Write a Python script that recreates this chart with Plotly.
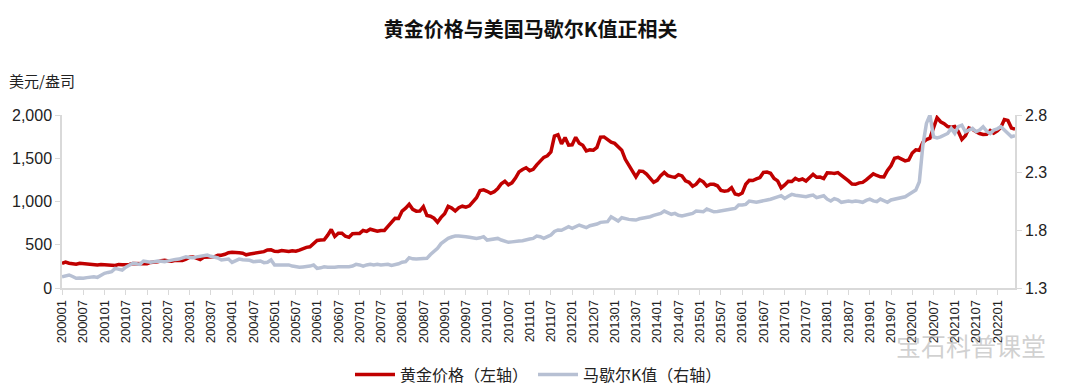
import plotly.graph_objects as go

# Monthly labels 200001 .. 202206
months = [f"{y}{m:02d}" for y in range(2000, 2023) for m in range(1, 13)][:270]

# Gold price (USD/oz), monthly averages
gold = [
    284.6, 300.0, 286.4, 280.0, 275.3, 285.7, 281.6, 274.5, 273.7, 270.0, 266.0, 271.5,
    265.5, 261.9, 263.0, 260.5, 272.4, 270.2, 267.5, 272.4, 283.4, 283.1, 276.2, 275.9,
    281.7, 295.5, 294.1, 302.7, 314.5, 321.2, 313.3, 310.3, 319.2, 316.6, 319.1, 333.0,
    356.9, 359.0, 340.6, 328.2, 355.7, 356.4, 351.0, 359.8, 378.9, 378.9, 389.9, 407.6,
    414.0, 405.3, 406.7, 403.0, 383.8, 392.4, 398.1, 400.5, 405.3, 420.5, 439.4, 441.8,
    424.0, 423.4, 434.2, 429.2, 421.9, 430.7, 424.5, 437.9, 456.0, 469.9, 476.7, 509.8,
    549.9, 555.0, 557.1, 610.6, 676.5, 596.2, 633.7, 632.6, 598.2, 585.8, 627.8, 629.8,
    631.2, 664.8, 654.9, 679.4, 666.9, 655.5, 665.3, 665.4, 712.7, 754.6, 806.3, 803.2,
    889.6, 922.3, 968.4, 909.7, 888.7, 889.5, 939.8, 839.0, 829.9, 806.6, 760.9, 816.1,
    858.7, 943.2, 924.3, 890.2, 928.6, 945.7, 934.2, 949.4, 996.6, 1043.2, 1127.0, 1134.7,
    1118.0, 1095.4, 1113.3, 1148.7, 1205.4, 1232.9, 1193.0, 1215.8, 1271.0, 1342.0, 1369.9, 1390.6,
    1356.4, 1372.7, 1424.0, 1473.8, 1510.4, 1528.7, 1572.8, 1755.8, 1771.9, 1665.2, 1739.0, 1652.3,
    1656.1, 1742.1, 1673.8, 1650.1, 1585.5, 1596.7, 1593.9, 1626.0, 1744.5, 1746.6, 1721.6, 1684.8,
    1671.9, 1627.6, 1593.1, 1487.9, 1414.0, 1343.4, 1285.5, 1351.7, 1348.6, 1316.6, 1275.9, 1221.5,
    1244.3, 1299.6, 1336.1, 1299.0, 1287.5, 1279.1, 1310.6, 1296.0, 1238.8, 1222.5, 1176.3, 1200.6,
    1250.8, 1227.1, 1178.6, 1198.9, 1198.6, 1181.5, 1128.3, 1117.9, 1124.8, 1159.3, 1086.4, 1075.7,
    1097.4, 1199.5, 1245.1, 1242.3, 1260.9, 1276.4, 1336.7, 1340.2, 1326.6, 1266.6, 1238.4, 1157.4,
    1192.1, 1234.2, 1231.1, 1266.9, 1246.0, 1260.3, 1236.8, 1283.0, 1314.1, 1279.5, 1281.9, 1264.5,
    1331.3, 1330.7, 1324.7, 1334.8, 1303.5, 1281.6, 1237.7, 1201.7, 1198.4, 1215.4, 1220.7, 1250.4,
    1291.8, 1320.1, 1300.9, 1285.9, 1283.7, 1359.0, 1412.9, 1500.4, 1510.6, 1494.8, 1470.0, 1479.1,
    1560.7, 1597.1, 1591.9, 1683.2, 1715.9, 1732.2, 1846.5, 1968.6, 1921.9, 1900.3, 1866.3, 1858.4,
    1867.6, 1808.2, 1718.2, 1760.0, 1850.3, 1834.6, 1807.8, 1785.3, 1775.1, 1776.9, 1821.0, 1790.4,
    1816.0, 1856.3, 1948.0, 1937.4, 1848.5, 1836.6,
]

# Marshall K value
mk = [
    1.398, 1.405, 1.413, 1.400, 1.384, 1.386, 1.384, 1.390, 1.395, 1.398, 1.392, 1.410,
    1.427, 1.435, 1.441, 1.470, 1.460, 1.455, 1.480, 1.495, 1.514, 1.510, 1.505, 1.534,
    1.530, 1.523, 1.528, 1.534, 1.532, 1.528, 1.535, 1.543, 1.548, 1.551, 1.560, 1.571,
    1.565, 1.563, 1.570, 1.577, 1.580, 1.586, 1.575, 1.571, 1.560, 1.543, 1.548, 1.551,
    1.522, 1.535, 1.551, 1.545, 1.543, 1.540, 1.528, 1.532, 1.534, 1.520, 1.523, 1.543,
    1.499, 1.500, 1.499, 1.505, 1.500, 1.490, 1.485, 1.480, 1.483, 1.484, 1.490, 1.499,
    1.470, 1.475, 1.484, 1.480, 1.477, 1.480, 1.484, 1.482, 1.481, 1.485, 1.490, 1.505,
    1.500, 1.490, 1.500, 1.505, 1.500, 1.505, 1.499, 1.503, 1.505, 1.495, 1.500, 1.510,
    1.524, 1.528, 1.563, 1.553, 1.551, 1.551, 1.555, 1.557, 1.590, 1.615, 1.644, 1.685,
    1.710, 1.730, 1.742, 1.750, 1.750, 1.750, 1.745, 1.740, 1.736, 1.730, 1.735, 1.745,
    1.716, 1.720, 1.725, 1.730, 1.716, 1.705, 1.696, 1.700, 1.707, 1.707, 1.710, 1.720,
    1.725, 1.730, 1.750, 1.745, 1.730, 1.745, 1.759, 1.790, 1.803, 1.800, 1.815, 1.831,
    1.817, 1.830, 1.846, 1.835, 1.823, 1.840, 1.846, 1.855, 1.869, 1.870, 1.875, 1.918,
    1.900, 1.881, 1.909, 1.900, 1.895, 1.892, 1.889, 1.900, 1.904, 1.910, 1.918, 1.930,
    1.939, 1.947, 1.967, 1.950, 1.939, 1.947, 1.930, 1.924, 1.933, 1.940, 1.947, 1.967,
    1.965, 1.961, 1.985, 1.975, 1.961, 1.963, 1.967, 1.970, 1.976, 1.985, 1.990, 2.019,
    2.020, 2.025, 2.054, 2.048, 2.043, 2.050, 2.054, 2.063, 2.070, 2.077, 2.090, 2.100,
    2.077, 2.095, 2.112, 2.105, 2.100, 2.095, 2.091, 2.100, 2.106, 2.083, 2.090, 2.100,
    2.070, 2.054, 2.075, 2.065, 2.043, 2.050, 2.054, 2.048, 2.054, 2.050, 2.043, 2.060,
    2.071, 2.055, 2.048, 2.071, 2.060, 2.043, 2.063, 2.070, 2.077, 2.085, 2.091, 2.110,
    2.129, 2.149, 2.221, 2.539, 2.727, 2.800, 2.611, 2.602, 2.610, 2.626, 2.640, 2.684,
    2.640, 2.700, 2.712, 2.655, 2.670, 2.684, 2.655, 2.670, 2.698, 2.660, 2.640, 2.669,
    2.680, 2.698, 2.670, 2.640, 2.611, 2.620,
]

left_ticks = [0, 500, 1000, 1500, 2000]
left_ticktext = ["0", "500", "1,000", "1,500", "2,000"]
right_ticks = [1.3, 1.8, 2.3, 2.8]
right_ticktext = ["1.3", "1.8", "2.3", "2.8"]

idx = list(range(len(months)))
tick_idx = idx[::6]
tick_txt = months[::6]

RED = "#C00000"
GRAY = "#B7C0D3"
AXIS = "#D9D9D9"
FONT = "Liberation Sans, Arial, sans-serif"
CJK = "Noto Sans CJK SC, sans-serif"

fig = go.Figure()
fig.add_trace(go.Scatter(x=idx, y=mk, mode="lines", name="马歇尔K值（右轴）",
                         line=dict(color=GRAY, width=3.5), yaxis="y2"))
fig.add_trace(go.Scatter(x=idx, y=gold, mode="lines", name="黄金价格（左轴）",
                         line=dict(color=RED, width=3.5)))

fig.update_layout(
    width=1080, height=392,
    paper_bgcolor="white", plot_bgcolor="white",
    margin=dict(l=54, r=73, t=107, b=112, autoexpand=False),
    showlegend=True,
    legend=dict(orientation="h", x=0.5, xanchor="center", y=-0.50, yanchor="middle",
                traceorder="reversed", font=dict(family=CJK, size=16, color="#222"),
                itemwidth=40, bgcolor="rgba(0,0,0,0)"),
    title=dict(text="<b>黄金价格与美国马歇尔K值正相关</b>", x=0.484, xanchor="center",
               y=0.944, yanchor="middle", font=dict(family=CJK, size=20, color="#111")),
    xaxis=dict(range=[0, len(months) - 1], tickvals=tick_idx, ticktext=tick_txt,
               tickangle=-90, tickfont=dict(family=FONT, size=13, color="#222"),
               showgrid=False, zeroline=False, showline=True, linecolor=AXIS, linewidth=1.5,
               ticks="outside", ticklen=5, tickcolor=AXIS, automargin=False),
    yaxis=dict(range=[0, 2000], tickvals=left_ticks, ticktext=left_ticktext,
               tickfont=dict(family=FONT, size=16, color="#222"),
               showgrid=False, zeroline=False, showline=True, linecolor=AXIS, linewidth=1.5,
               ticks="outside", ticklen=5, tickcolor=AXIS, automargin=False),
    yaxis2=dict(range=[1.3, 2.8], tickvals=right_ticks, ticktext=right_ticktext,
                overlaying="y", side="right",
                tickfont=dict(family=FONT, size=16, color="#222"),
                showgrid=False, zeroline=False, showline=True, linecolor=AXIS, linewidth=1.5,
                ticks="outside", ticklen=5, tickcolor=AXIS, automargin=False),
)

fig.add_annotation(text="美元/盎司", xref="paper", yref="paper", x=-0.058, y=1.20,
                   xanchor="left", yanchor="middle", showarrow=False,
                   font=dict(family=CJK, size=15, color="#222"))
fig.add_annotation(text="宝石科普课堂", xref="paper", yref="paper", x=1.035, y=-0.33,
                   xanchor="right", yanchor="middle", showarrow=False,
                   font=dict(family=CJK, size=25, color="rgba(170,170,170,0.55)"))

fig.write_html("out.html")
